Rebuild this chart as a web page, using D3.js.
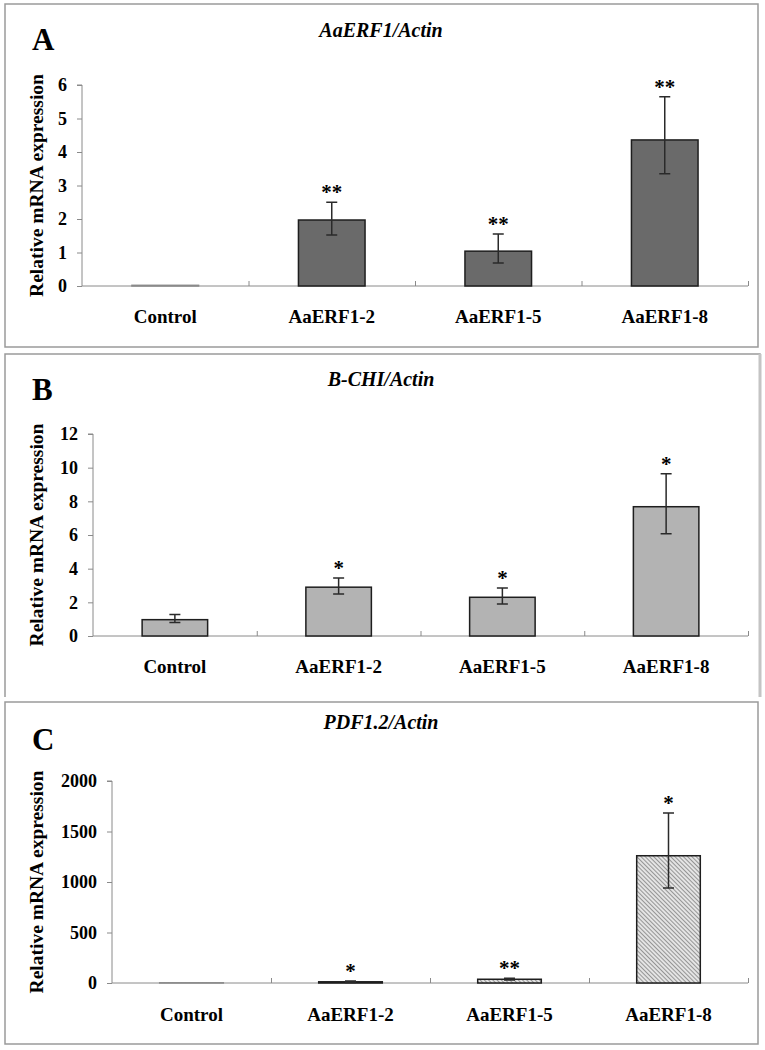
<!DOCTYPE html>
<html><head><meta charset="utf-8">
<script src="https://cdn.jsdelivr.net/npm/d3@7"></script>
<style>body{margin:0;background:#fff}svg{display:block}text{font-family:"Liberation Serif","Times New Roman",serif}</style>
</head><body>
<svg id="c" width="765" height="1050"></svg>
<script>
const categories = ["Control", "AaERF1-2", "AaERF1-5", "AaERF1-8"];

const aValues = [0.02, 1.97, 1.04, 4.36];
const aErrPlus = [0, 0.53, 0.51, 1.29];
const aErrMinus = [0, 0.45, 0.35, 1.01];
const aStars = ["", "**", "**", "**"];
const aTicks = [0, 1, 2, 3, 4, 5, 6];

const bValues = [0.97, 2.9, 2.3, 7.68];
const bErrPlus = [0.3, 0.55, 0.55, 1.96];
const bErrMinus = [0.17, 0.4, 0.4, 1.61];
const bStars = ["", "*", "*", "*"];
const bTicks = [0, 2, 4, 6, 8, 10, 12];

const cValues = [2, 12, 37, 1260];
const cErrPlus = [0, 8, 11, 423];
const cErrMinus = [0, 6, 8, 320];
const cStars = ["", "*", "**", "*"];
const cTicks = [0, 500, 1000, 1500, 2000];

const titles = ["AaERF1/Actin", "B-CHI/Actin", "PDF1.2/Actin"];
const letters = ["A", "B", "C"];
const yLabel = "Relative mRNA expression";

const svg = d3.select("#c");
const defs = svg.append("defs");
const pat = defs.append("pattern").attr("id","hatch").attr("patternUnits","userSpaceOnUse")
  .attr("width",3).attr("height",3).attr("patternTransform","rotate(-45)");
pat.append("rect").attr("width",3).attr("height",3).attr("fill","#e4e4e4");
pat.append("line").attr("x1",0).attr("y1",0).attr("x2",0).attr("y2",3).attr("stroke","#6a6a6a").attr("stroke-width",1.3);

const frameColor = "#9a9a9a", axisColor = "#8a8a8a";

// frames
svg.append("rect").attr("x",5).attr("y",4).attr("width",753).attr("height",343)
  .attr("fill","none").attr("stroke",frameColor).attr("stroke-width",1.5);
svg.append("path").attr("d","M5,697 L5,354 L760,354 L760,697")
  .attr("fill","none").attr("stroke",frameColor).attr("stroke-width",1.5);
svg.append("path").attr("d","M760,354 L760,697").attr("stroke","#c4c4c4").attr("stroke-width",3);
svg.append("rect").attr("x",5).attr("y",702).attr("width",753).attr("height",342)
  .attr("fill","none").attr("stroke",frameColor).attr("stroke-width",1.5);

const panels = [
  {values:aValues, ep:aErrPlus, em:aErrMinus, stars:aStars, ticks:aTicks, max:6, fill:"#6a6a6a",
   x0:82, x1:748, yT:85, yB:286, title:titles[0], titleY:37, letter:letters[0], letterY:50, labY:323},
  {values:bValues, ep:bErrPlus, em:bErrMinus, stars:bStars, ticks:bTicks, max:12, fill:"#b3b3b3",
   x0:93, x1:748, yT:434, yB:636, title:titles[1], titleY:386, letter:letters[1], letterY:400, labY:673},
  {values:cValues, ep:cErrPlus, em:cErrMinus, stars:cStars, ticks:cTicks, max:2000, fill:"url(#hatch)",
   x0:112, x1:748, yT:781, yB:983, title:titles[2], titleY:729, letter:letters[2], letterY:750, labY:1021}
];

panels.forEach(p => {
  const g = svg.append("g");
  const x = d3.scaleBand().domain(categories).range([p.x0, p.x1]).paddingInner(0.6).paddingOuter(0.3);
  const y = d3.scaleLinear().domain([0, p.max]).range([p.yB, p.yT]);

  g.append("text").attr("x",381).attr("y",p.titleY).attr("text-anchor","middle")
    .attr("font-size",20).attr("font-weight","bold").attr("font-style","italic").text(p.title);
  g.append("text").attr("x",32).attr("y",p.letterY)
    .attr("font-size",31).attr("font-weight","bold").text(p.letter);

  // y axis
  const ya = g.append("g").attr("transform",`translate(${p.x0},0)`)
    .call(d3.axisLeft(y).tickValues(p.ticks).tickSize(5).tickPadding(10).tickFormat(d3.format("d")));
  ya.select(".domain").attr("stroke",axisColor).attr("d",`M-5,${y(p.max)}H0V${y(0)}`);
  ya.selectAll(".tick line").attr("stroke",axisColor);
  ya.selectAll(".tick text").attr("font-size",18).attr("font-weight","bold")
    .style("font-family","Liberation Serif").attr("fill","#000");

  // x axis with boundary ticks upward
  const xb = d3.scaleLinear().domain([0, categories.length]).range([p.x0, p.x1]);
  const xa = g.append("g").attr("transform",`translate(0,${p.yB})`)
    .call(d3.axisBottom(xb).tickValues(d3.range(1, categories.length+1)).tickSize(-5).tickFormat(""));
  xa.select(".domain").attr("stroke",axisColor).attr("d",`M${p.x0},0H${p.x1}`);
  xa.selectAll(".tick line").attr("stroke",axisColor);

  g.selectAll(".xlab").data(categories).join("text")
    .attr("x", d => x(d) + x.bandwidth()/2).attr("y", p.labY).attr("text-anchor","middle")
    .attr("font-size",19).attr("font-weight","bold").text(d => d);

  g.append("text").attr("transform",`translate(43,${(p.yT+p.yB)/2}) rotate(-90)`)
    .attr("text-anchor","middle").attr("font-size",19.5).attr("font-weight","bold").text(yLabel);

  const data = categories.map((c,i) => ({c, v:p.values[i], ep:p.ep[i], em:p.em[i], s:p.stars[i]}));

  g.selectAll(".bar").data(data).join("rect")
    .attr("x", d => x(d.c)).attr("width", x.bandwidth())
    .attr("y", d => y(d.v)).attr("height", d => Math.max(0, y(0) - y(d.v)))
    .attr("fill", p.fill)
    .attr("stroke", d => (y(0)-y(d.v)) < 1 ? axisColor : "#1e1e1e")
    .attr("stroke-width", 1.5);

  const eb = data.filter(d => d.ep > 0 || d.em > 0);
  const cx = d => x(d.c) + x.bandwidth()/2;
  g.selectAll(".err").data(eb).join("path")
    .attr("d", d => `M${cx(d)},${y(d.v+d.ep)}V${y(d.v-d.em)}M${cx(d)-5.5},${y(d.v+d.ep)}H${cx(d)+5.5}M${cx(d)-5.5},${y(d.v-d.em)}H${cx(d)+5.5}`)
    .attr("stroke","#2a2a2a").attr("stroke-width",1.5).attr("fill","none");

  g.selectAll(".star").data(data.filter(d => d.s)).join("text")
    .attr("x", cx).attr("y", d => y(d.v + d.ep) - 3).attr("text-anchor","middle")
    .attr("font-size",21).attr("font-weight","bold").text(d => d.s);
});
</script>
</body></html>
